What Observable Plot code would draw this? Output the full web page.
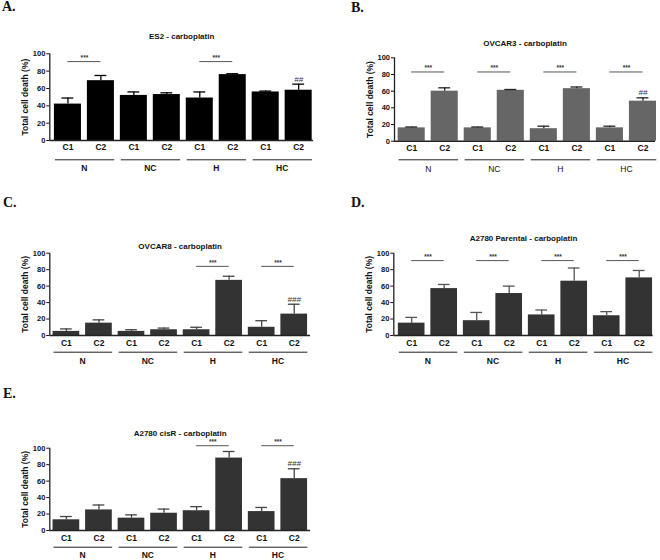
<!DOCTYPE html>
<html><head><meta charset="utf-8">
<script src="https://cdn.jsdelivr.net/npm/d3@7"></script>
<script src="https://cdn.jsdelivr.net/npm/@observablehq/plot@0.6"></script>
<style>
body{margin:0;background:#fff;}
#fig{position:relative;width:660px;height:560px;overflow:hidden;background:#fff;}
.panel{position:absolute;}
.letter{position:absolute;font-family:"Liberation Serif","Times New Roman",serif;font-weight:bold;font-size:14px;line-height:14px;color:#111;}
</style></head><body><div id="fig"></div>
<script>
// ---- data ----
const groups = ["N", "NC", "H", "HC"];
const conditions = ["C1", "C2"];
const yTicks = [0, 20, 40, 60, 80, 100];
const yLabel = "Total cell death (%)";

const letters = ["A.", "B.", "C.", "D.", "E."];
const titles = ["ES2 - carboplatin", "OVCAR3 - carboplatin", "OVCAR8 - carboplatin", "A2780 Parental - carboplatin", "A2780 cisR - carboplatin"];

// means (N C1, N C2, NC C1, NC C2, H C1, H C2, HC C1, HC C2) and error bars
const es2Mean    = [42, 69, 52, 53, 49, 76, 56, 58];
const es2Err     = [7, 6, 4, 2, 7, 1, 1, 7];
const ovcar3Mean = [16, 60, 16, 61, 15, 63, 16, 48];
const ovcar3Err  = [1, 4, 1, 1, 3, 2, 2, 4];
const ovcar8Mean = [5, 15, 5, 7, 7, 67, 10, 26];
const ovcar8Err  = [3, 4, 2, 2, 3, 5, 8, 12];
const parMean    = [15, 57, 18, 51, 25, 66, 24, 70];
const parErr     = [7, 5, 10, 9, 6, 16, 5, 9];
const cisRMean   = [13, 25, 15, 21, 24, 88, 23, 63];
const cisRErr    = [4, 6, 4, 5, 5, 8, 5, 12];

// significance brackets (groups) and their level, and hash marks on HC C2
const es2Sig = ["N", "H"];        const es2SigY = 91;     const es2Hash = "##";
const ovcar3Sig = ["N", "NC", "H", "HC"]; const ovcar3SigY = 83; const ovcar3Hash = "##";
const ovcar8Sig = ["H", "HC"];    const ovcar8SigY = 84;  const ovcar8Hash = "###";
const parSig = ["N", "NC", "H", "HC"];    const parSigY = 91;    const parHash = "";
const cisRSig = ["H", "HC"];      const cisRSigY = 103;   const cisRHash = "###";

// ---- layout ----
const panels = [
  {means: es2Mean, errs: es2Err, sig: es2Sig, sigY: es2SigY, hash: es2Hash, color: "#000", err: "#000", gw: "bold",
   L: {ox: 0, oy: 0, w: 330, h: 190, mL: 49.3, mR: 17, mT: 53.3, mB: 50, xDom: [-0.55, 7.45], titleDy: -17.3, condDy: 7, lineDy: 19.3, groupDy: 27.7, lx: 2, ly: 0}},
  {means: ovcar3Mean, errs: ovcar3Err, sig: ovcar3Sig, sigY: ovcar3SigY, hash: ovcar3Hash, color: "#666", err: "#222", gw: "normal",
   L: {ox: 330, oy: 0, w: 330, h: 190, mL: 64, mR: 5, mT: 57.3, mB: 49.3, xDom: [-0.52, 7.38], titleDy: -14, condDy: 7, lineDy: 18.6, groupDy: 27.6, lx: 351, ly: 1}},
  {means: ovcar8Mean, errs: ovcar8Err, sig: ovcar8Sig, sigY: ovcar8SigY, hash: ovcar8Hash, color: "#333", err: "#444", gw: "bold",
   L: {ox: 0, oy: 190, w: 330, h: 190, mL: 49.3, mR: 20, mT: 62.7, mB: 45, xDom: [-0.51, 7.5], titleDy: -6.7, condDy: 7.5, lineDy: 16.7, groupDy: 25.7, lx: 3, ly: 196}},
  {means: parMean, errs: parErr, sig: parSig, sigY: parSigY, hash: parHash, color: "#333", err: "#555", gw: "bold",
   L: {ox: 330, oy: 190, w: 330, h: 190, mL: 63.3, mR: 7.3, mT: 62.7, mB: 45, xDom: [-0.55, 7.43], titleDy: -15, condDy: 7.5, lineDy: 16.7, groupDy: 25.7, lx: 351, ly: 196}},
  {means: cisRMean, errs: cisRErr, sig: cisRSig, sigY: cisRSigY, hash: cisRHash, color: "#333", err: "#444", gw: "bold",
   L: {ox: 0, oy: 380, w: 330, h: 180, mL: 49.3, mR: 20, mT: 67.7, mB: 30, xDom: [-0.51, 7.5], titleDy: -14.4, condDy: 7.3, lineDy: 16.7, groupDy: 25, lx: 3, ly: 387}}
];

const fig = document.getElementById("fig");
const FONT = "'Liberation Sans', Arial, sans-serif";

panels.forEach((p, n) => {
  const L = p.L;
  const rows = p.means.map((m, i) => ({i, group: groups[Math.floor(i / 2)], cond: conditions[i % 2], mean: m, top: m + p.errs[i]}));
  const groupRows = groups.map((g, k) => ({g, k}));
  const sigRows = p.sig.map(g => ({k: groups.indexOf(g), y: p.sigY}));
  const hashRows = p.hash ? [rows[7]] : [];

  const svg = Plot.plot({
    width: L.w, height: L.h,
    marginLeft: L.mL, marginRight: L.mR, marginTop: L.mT, marginBottom: L.mB,
    x: {type: "linear", domain: L.xDom, axis: null},
    y: {domain: [0, 100], ticks: yTicks, tickSize: 3, tickPadding: 1.5, label: null, tickFormat: d => String(d)},
    style: {fontFamily: FONT, fontSize: "7.5px", fontWeight: "bold", background: "transparent", overflow: "visible", color: "#111"},
    marks: [
      Plot.rectY(rows, {x1: d => d.i - 0.41, x2: d => d.i + 0.41, y1: 0, y2: "mean", fill: p.color}),
      Plot.ruleX(rows, {x: "i", y1: "mean", y2: "top", stroke: p.err, strokeWidth: 1.3}),
      Plot.ruleY(rows, {y: "top", x1: d => d.i - 0.18, x2: d => d.i + 0.18, stroke: p.err, strokeWidth: 1.3}),
      Plot.ruleX([L.xDom[0]], {y1: 0, y2: 100, stroke: "#222", strokeWidth: 1.3}),
      Plot.ruleY([0], {stroke: "#222", strokeWidth: 1.6}),
      Plot.text(rows, {x: "i", y: 0, text: "cond", dy: L.condDy, lineAnchor: "middle", fontSize: 8.5, fontWeight: "bold", fill: "#111"}),
      Plot.ruleY(groupRows, {y: 0, x1: d => 2 * d.k - 0.38, x2: d => 2 * d.k + 1.42, dy: L.lineDy, stroke: "#222", strokeWidth: 1}),
      Plot.text(groupRows, {x: d => 2 * d.k + 0.5, y: 0, text: "g", dy: L.groupDy, lineAnchor: "middle", fontSize: 8.5, fontWeight: p.gw, fill: "#111"}),
      Plot.ruleY(sigRows, {y: "y", x1: d => 2 * d.k, x2: d => 2 * d.k + 1, stroke: "#555", strokeWidth: 1}),
      Plot.text(sigRows, {x: d => 2 * d.k + 0.5, y: "y", text: d => "***", lineAnchor: "bottom", dy: -1.5, fontSize: 6.5, fontWeight: "bold", fill: "#333"}),
      Plot.text(hashRows, {x: "i", y: "top", text: d => p.hash, lineAnchor: "bottom", dy: -2.5, fontSize: 8, fontWeight: "normal", fontStyle: "italic", fill: "#333"}),
      Plot.text([titles[n]], {frameAnchor: "top", textAnchor: "middle", lineAnchor: "middle", dy: L.titleDy, fontSize: 8, fontWeight: "bold", fill: "#111"}),
      Plot.text([yLabel], {frameAnchor: "left", textAnchor: "middle", lineAnchor: "middle", rotate: -90, dx: -24.5, fontSize: 8.5, fontWeight: "bold", fill: "#111"})
    ]
  });
  svg.classList.add("panel");
  svg.style.left = L.ox + "px";
  svg.style.top = L.oy + "px";
  svg.style.position = "absolute";
  fig.appendChild(svg);

  const lab = document.createElement("div");
  lab.className = "letter";
  lab.textContent = letters[n];
  lab.style.left = L.lx + "px";
  lab.style.top = L.ly + "px";
  fig.appendChild(lab);
});
</script>
</body></html>
